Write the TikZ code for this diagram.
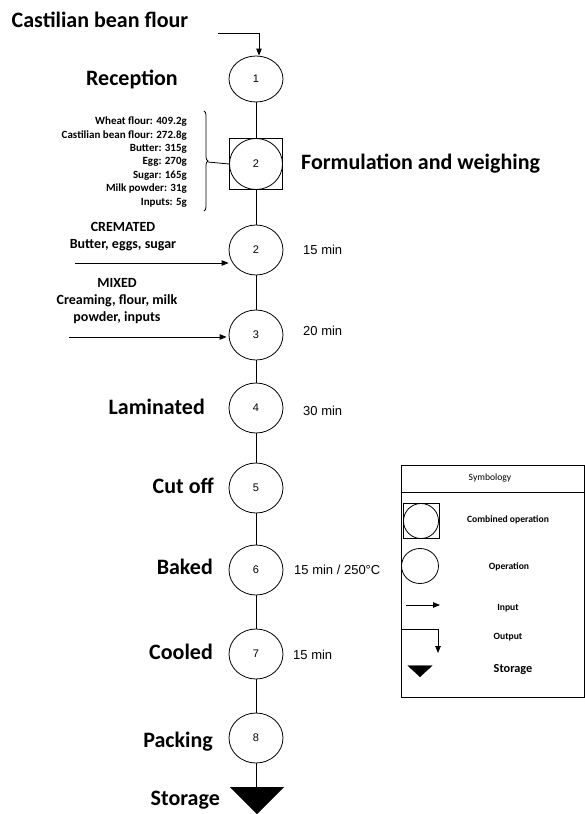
\documentclass[tikz,border=0pt]{standalone}
\usepackage{fontspec}
\setmainfont{Carlito}
\newfontfamily\arial{Liberation Sans}
\usetikzlibrary{shapes.geometric,arrows.meta,decorations.pathreplacing}
\tikzset{
  op/.style={ellipse,draw,line width=0.8pt,minimum width=54pt,minimum height=50pt,inner sep=0pt,font=\arial\fontsize{11}{13}\selectfont},
  big/.style={font=\bfseries\fontsize{22}{26}\selectfont,inner sep=0pt},
  mid/.style={font=\bfseries\fontsize{14}{17}\selectfont,inner sep=0pt,align=center},
  tm/.style={font=\arial\fontsize{13}{15}\selectfont,inner sep=0pt,anchor=west},
  lg/.style={font=\bfseries\fontsize{9.6}{12}\selectfont,inner sep=0pt},
  flow/.style={line width=0.8pt},
  inarrow/.style={line width=0.8pt,-{Triangle[length=7pt,width=5.5pt]}}
}
\begin{document}
\begin{tikzpicture}[x=1pt,y=-1pt]
\useasboundingbox (0,0) rectangle (585,814);
% main operations
\node[op,minimum height=46pt] (n1) at (256,79) {1};
\node[op,minimum width=53pt,minimum height=51pt] (n2b) at (256,164) {2};
\node[draw,line width=0.8pt,minimum width=53pt,minimum height=51pt,inner sep=0pt] (sq) at (256,164) {};
\node[op] (n2) at (256,250) {2};
\node[op] (n3) at (256,335) {3};
\node[op] (n4) at (256,408) {4};
\node[op] (n5) at (256,488) {5};
\node[op] (n6) at (256,570) {6};
\node[op] (n7) at (256,654) {7};
\node[op] (n8) at (256,738) {8};
\node[isosceles triangle,shape border rotate=-90,fill=black,draw,isosceles triangle apex angle=90,minimum width=53pt,inner sep=0pt,anchor=apex] (st) at (257,814) {};
% connectors
\draw[flow] (n1.south) -- (sq.north);
\draw[flow] (sq.south) -- (n2.north);
\draw[flow] (n2) -- (n3);
\draw[flow] (n3) -- (n4);
\draw[flow] (n4) -- (n5);
\draw[flow] (n5) -- (n6);
\draw[flow] (n6) -- (n7);
\draw[flow] (n7) -- (n8);
\draw[flow] (n8.south) -- (n8.south |- st.north);
% labels
\node[big] (lcast) at (100,20) {Castilian bean flour};
\coordinate (cin) at (218,33);
\draw[inarrow] (cin) -| ([xshift=3pt]n1.north);
\node[big,anchor=east] (lrec) at (178,79) {Reception};
\node[big,anchor=west] (lform) at (301,164) {Formulation and weighing};
\node[font=\bfseries\fontsize{11}{13.4}\selectfont,align=right,anchor=east,inner sep=0pt] (ingr) at (187,162) {Wheat flour: 409.2g\\Castilian bean flour: 272.8g\\Butter: 315g\\Egg: 270g\\Sugar: 165g\\Milk powder: 31g\\Inputs: 5g};
\draw[line width=0.8pt,decorate,decoration={brace,amplitude=4pt}] (204,111) -- (204,211);
\draw[line width=0.8pt] (208,162) -- (sq.west);
\node[mid] (lcrem) at (123,237) {CREMATED\\Butter, eggs, sugar};
\coordinate (crin) at (75,263);
\draw[inarrow] (crin) -- (n2.west |- crin);
\node[tm] (t2) at (303,250) {15 min};
\node[mid] (lmix) at (117,301) {MIXED\\Creaming, flour, milk\\powder, inputs};
\coordinate (mxin) at (69,337);
\draw[inarrow] (mxin) -- ([xshift=-2pt]n3.west |- mxin);
\node[tm] (t3) at (303,331) {20 min};
\node[big,anchor=east] (llam) at (205,407) {Laminated};
\node[tm] (t4) at (303,411) {30 min};
\node[big,anchor=east] (lcut) at (214,486) {Cut off};
\node[big,anchor=east] (lbak) at (213,567) {Baked};
\node[tm] (t6) at (294,570) {15 min / 250°C};
\node[big,anchor=east] (lcoo) at (213,652) {Cooled};
\node[tm] (t7) at (293,655) {15 min};
\node[big,anchor=east] (lpac) at (213,742) {Packing};
\node[big,anchor=east] (lsto) at (220,800) {Storage};
% legend
\draw[line width=0.8pt] (401,465) rectangle (584,697);
\draw[line width=0.8pt] (401,492) -- (584,492);
\node[font=\fontsize{9.6}{12}\selectfont,inner sep=0pt] (lsym) at (490,478) {Symbology};
\node[draw,line width=0.8pt,minimum width=36pt,minimum height=35pt,inner sep=0pt] (lsq) at (421,521) {};
\node[ellipse,draw,line width=0.8pt,minimum width=35pt,minimum height=35pt,inner sep=0pt] (lsqc) at (421,521) {};
\node[lg] (lcomb) at (508,520) {Combined operation};
\node[ellipse,draw,line width=0.8pt,minimum width=37pt,minimum height=35pt,inner sep=0pt] (lop) at (420,566) {};
\node[lg] (lopt) at (509,567) {Operation};
\coordinate (lia) at (406,605);
\coordinate (lib) at (440,605);
\draw[inarrow] (lia) -- (lib);
\node[lg] (linp) at (508,608) {Input};
\coordinate (loa) at (401,629);
\coordinate (lob) at (438,653);
\draw[inarrow] (loa) -| (lob);
\node[lg] (lout) at (508,637) {Output};
\node[isosceles triangle,shape border rotate=-90,fill=black,draw,isosceles triangle apex angle=95,minimum width=24pt,inner sep=0pt,anchor=apex] (lst) at (420,677) {};
\node[font=\bfseries\fontsize{12.3}{14}\selectfont,inner sep=0pt] (lstt) at (513,670) {Storage};
\end{tikzpicture}
\end{document}
